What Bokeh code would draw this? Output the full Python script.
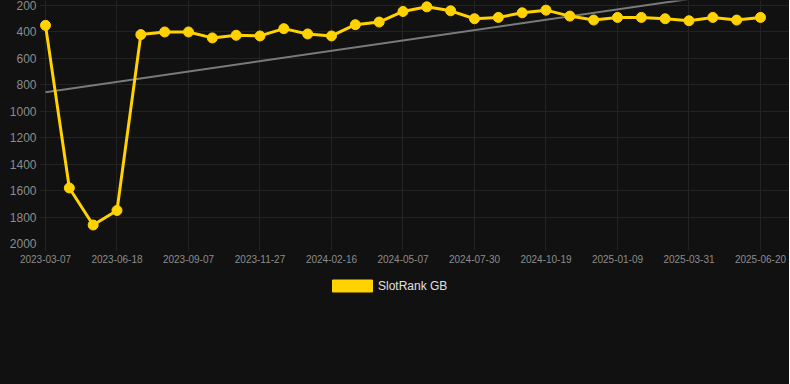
from bokeh.plotting import figure
from bokeh.layouts import column
from bokeh.models import Range1d, FixedTicker, Legend, LegendItem, ColumnDataSource
from bokeh.embed import file_html
from bokeh.resources import INLINE
import numpy as np

dates = [
    "2023-03-07", "2023-04-10", "2023-05-14", "2023-06-18", "2023-07-15", "2023-08-11",
    "2023-09-07", "2023-10-04", "2023-10-31", "2023-11-27", "2023-12-24", "2024-01-20",
    "2024-02-16", "2024-03-14", "2024-04-10", "2024-05-07", "2024-06-04", "2024-07-02",
    "2024-07-30", "2024-08-26", "2024-09-22", "2024-10-19", "2024-11-15", "2024-12-12",
    "2025-01-09", "2025-02-05", "2025-03-04", "2025-03-31", "2025-04-27", "2025-05-24",
    "2025-06-20",
]
rank = [
    350, 1580, 1860, 1750, 420, 400, 400, 445, 425, 430, 375, 415, 430, 345, 325, 245,
    210, 240, 300, 290, 255, 235, 280, 310, 290, 290, 300, 315, 290, 310, 290,
]
y_ticks = [200, 400, 600, 800, 1000, 1200, 1400, 1600, 1800, 2000]
series_name = "SlotRank GB"

BG = "#111111"
GRID = "#232323"
YELLOW = "#FFD200"
TICK_TEXT = "#8c8c8c"

idx = list(range(len(dates)))
src = ColumnDataSource(dict(x=idx, y=rank))

# linear trend of the series
slope, icpt = np.polyfit(idx, rank, 1)
trend_x = [idx[0], idx[-1]]
trend_y = [icpt + slope * idx[0], icpt + slope * idx[-1]]

p = figure(
    width=789, height=268,
    x_range=Range1d(-0.2517, 31.217), y_range=Range1d(2000, 162),
    output_backend="svg", toolbar_location=None,
    background_fill_color=BG, border_fill_color=BG,
    min_border_left=39, min_border_right=0, min_border_top=0, min_border_bottom=25,
    outline_line_color=None,
)

p.line(trend_x, trend_y, line_color="#7a7a7a", line_width=2)
p.line("x", "y", source=src, line_color=YELLOW, line_width=3)
p.scatter("x", "y", source=src, size=10, fill_color=YELLOW, line_color=YELLOW)

# axes
xa = p.xaxis[0]
xa.ticker = FixedTicker(ticks=idx[::3])
xa.major_label_overrides = {i: dates[i] for i in idx[::3]}
xa.axis_line_color = None
xa.major_tick_line_color = GRID
xa.major_tick_out = 7
xa.major_tick_in = 0
xa.minor_tick_line_color = None
xa.major_label_text_color = TICK_TEXT
xa.major_label_text_font = "Liberation Sans"
xa.major_label_text_font_size = "10px"
xa.major_label_standoff = 4

ya = p.yaxis[0]
ya.ticker = FixedTicker(ticks=y_ticks)
ya.axis_line_color = None
ya.major_tick_line_color = None
ya.major_tick_out = 0
ya.major_tick_in = 0
ya.minor_tick_line_color = None
ya.major_label_text_color = TICK_TEXT
ya.major_label_text_font = "Liberation Sans"
ya.major_label_text_font_size = "12px"
ya.major_label_standoff = 3

p.xgrid.ticker = FixedTicker(ticks=idx[::3])
p.ygrid.ticker = FixedTicker(ticks=y_ticks)
p.xgrid.grid_line_color = GRID
p.ygrid.grid_line_color = GRID

# legend strip below the chart
lg = figure(
    width=789, height=116,
    x_range=Range1d(0, 1), y_range=Range1d(0, 1),
    output_backend="svg", toolbar_location=None,
    x_axis_location=None, y_axis_location=None,
    background_fill_color=BG, border_fill_color=BG,
    min_border=0, outline_line_color=None,
)
lg.grid.visible = False
# swatch renderer kept outside the visible range; only its legend entry shows
swatch = lg.rect(x=[-5], y=[-5], width=1, height=1, fill_color=YELLOW, line_color=YELLOW)

legend = Legend(
    items=[LegendItem(label=series_name, renderers=[swatch])],
    location=(288, 91), orientation="horizontal",
    glyph_width=50, glyph_height=15, label_height=12,
    label_text_color="#e0e0e0", label_text_font="Liberation Sans",
    label_text_font_size="12px", label_standoff=1,
    background_fill_alpha=0, border_line_color=None,
    margin=0, padding=0,
)
lg.add_layout(legend, "center")

layout = column(p, lg, spacing=0)
layout.styles = {"background-color": BG}

open("out.html", "w").write(file_html(layout, INLINE))
